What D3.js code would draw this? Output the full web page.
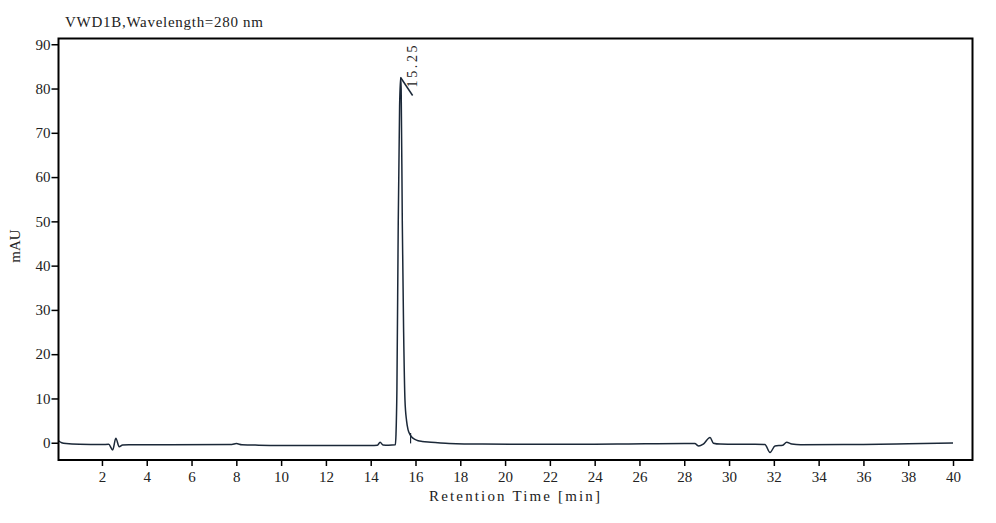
<!DOCTYPE html>
<html>
<head>
<meta charset="utf-8">
<style>
  body { margin: 0; background: #fff; }
  .tick text { font-family: "Liberation Serif", serif; font-size: 15px; fill: #222; }
  .lbl { font-family: "Liberation Serif", serif; font-size: 15px; fill: #222; }
</style>
<script src="https://d3js.org/d3.v7.min.js"></script>
</head>
<body>
<div id="chart"></div>
<script>
// chromatogram trace (retention time in min, signal in mAU)
var times = [0.06, 0.2, 0.4, 1.0, 2.0, 2.3, 2.48, 2.62, 2.77, 2.92, 3.2, 5.0, 7.8, 8.0, 8.25,
  9.0, 10.0, 12.0, 14.0, 14.3, 14.42, 14.55, 14.8, 15.10, 15.13, 15.17, 15.23, 15.29, 15.335,
  15.36, 15.41, 15.47, 15.53, 15.60, 15.67, 15.75, 15.82, 15.95, 16.12, 16.3, 16.56, 17.0,
  17.5, 19.0, 22.0, 25.0, 28.0, 28.47, 28.65, 28.85, 29.15, 29.3, 29.6, 31.0, 31.6, 31.83,
  32.05, 32.4, 32.57, 32.8, 33.2, 36.0, 38.0, 40.0];
var mau = [0.45, 0.0, -0.2, -0.35, -0.4, -0.35, -1.65, 1.0, -0.9, -0.5, -0.45, -0.45, -0.4, -0.2, -0.45,
  -0.55, -0.6, -0.6, -0.6, -0.55, 0.1, -0.5, -0.55, -0.45, 2, 12, 50, 76, 82.5,
  80, 50, 25, 9.6, 5, 2.9, 1.9, 1.35, 0.8, 0.45, 0.3, 0.15, 0.0,
  -0.15, -0.3, -0.35, -0.3, -0.15, -0.2, -0.75, -0.3, 1.2, -0.1, -0.3, -0.35, -0.4, -2.2,
  -0.75, -0.55, 0.1, -0.3, -0.45, -0.4, -0.25, -0.07];

var xTicks = d3.range(2, 41, 2);
var yTicks = d3.range(0, 91, 10);
var peakTime = 15.335, peakValue = 82.5, peakLabel = "15.25";
var peakEnd = [15.78, 2.2, -0.15]; // time, top, bottom of the end marker

var W = 996, H = 523;
var m = {left: 58.5, right: 972.5, top: 38.5, bottom: 460};

var svg = d3.select("#chart").append("svg")
  .attr("width", W).attr("height", H);

var x = d3.scaleLinear().domain([0.06, 40.87]).range([m.left, m.right]);
var y = d3.scaleLinear().domain([-3.9, 91.3]).range([m.bottom, m.top]);

svg.append("clipPath").attr("id", "clip")
  .append("rect").attr("x", m.left).attr("y", m.top)
  .attr("width", m.right - m.left).attr("height", m.bottom - m.top);

// trace
var pts = times.map(function(t, i) { return [t, mau[i]]; });
var line = d3.line()
  .x(function(d) { return x(d[0]); })
  .y(function(d) { return y(d[1]); })
  .curve(d3.curveMonotoneX);

svg.append("path")
  .datum(pts)
  .attr("clip-path", "url(#clip)")
  .attr("d", line)
  .attr("fill", "none")
  .attr("stroke", "#1b2838")
  .attr("stroke-width", 1.5);

// peak end marker
svg.append("line")
  .attr("x1", x(peakEnd[0])).attr("x2", x(peakEnd[0]))
  .attr("y1", y(peakEnd[1])).attr("y2", y(peakEnd[2]))
  .attr("stroke", "#1b2838").attr("stroke-width", 1.2);

// peak annotation
var px = x(peakTime), py = y(peakValue);
svg.append("line")
  .attr("x1", px).attr("y1", py)
  .attr("x2", px + 12).attr("y2", py + 18)
  .attr("stroke", "#1b2838").attr("stroke-width", 1.5);
svg.append("text")
  .attr("class", "lbl")
  .attr("transform", "translate(" + (px + 16) + "," + (py + 10) + ")rotate(-90)")
  .style("font-size", "14px")
  .attr("textLength", 42)
  .attr("lengthAdjust", "spacing")
  .text(peakLabel);

// axes
var xAxis = svg.append("g")
  .attr("transform", "translate(0," + m.bottom + ")")
  .call(d3.axisBottom(x).tickValues(xTicks).tickSize(6).tickPadding(5).tickSizeOuter(0));
var yAxis = svg.append("g")
  .attr("transform", "translate(" + m.left + ",0)")
  .call(d3.axisLeft(y).tickValues(yTicks).tickSize(7).tickPadding(1).tickSizeOuter(0));
[xAxis, yAxis].forEach(function(g) {
  g.select(".domain").remove();
  g.selectAll(".tick line").attr("stroke", "#000").attr("stroke-width", 1.5);
});

// frame
svg.append("rect")
  .attr("x", m.left).attr("y", m.top)
  .attr("width", m.right - m.left).attr("height", m.bottom - m.top)
  .attr("fill", "none").attr("stroke", "#000").attr("stroke-width", 2);

// texts
svg.append("text").attr("class", "lbl")
  .attr("x", 65).attr("y", 27)
  .attr("textLength", 198).attr("lengthAdjust", "spacing")
  .text("VWD1B,Wavelength=280 nm");

svg.append("text").attr("class", "lbl")
  .attr("x", 429).attr("y", 501)
  .attr("textLength", 171).attr("lengthAdjust", "spacing")
  .text("Retention Time [min]");

svg.append("text").attr("class", "lbl")
  .attr("text-anchor", "middle")
  .attr("transform", "translate(20,246)rotate(-90)")
  .text("mAU");
</script>
</body>
</html>
